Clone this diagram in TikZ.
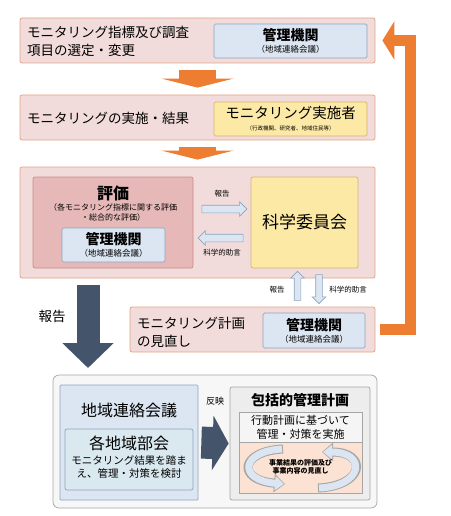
\documentclass[tikz,border=0pt]{standalone}
\usepackage{fontspec}
\setmainfont{Noto Sans CJK JP}
\usepackage{tikz}
\usetikzlibrary{arrows.meta, positioning, shapes.arrows}

\definecolor{pinkfill}{HTML}{F2DCDB}
\definecolor{pinkline}{HTML}{E3A484}
\definecolor{bluefill}{HTML}{DCE6F2}
\definecolor{blueline}{HTML}{8DA3BD}
\definecolor{yellowfill}{HTML}{FDE9A6}
\definecolor{yellowline}{HTML}{D5B26E}
\definecolor{evalfill}{HTML}{E6B9B8}
\definecolor{evalline}{HTML}{C98B88}
\definecolor{orangearr}{HTML}{ED7D31}
\definecolor{navyarr}{HTML}{44546A}
\definecolor{grayline}{HTML}{A6A6A6}
\definecolor{peachfill}{HTML}{FBE2D3}
\definecolor{tealfill}{HTML}{DAE9EF}

\begin{document}
\begin{tikzpicture}[x=1pt, y=-1pt,
  outerbox/.style={rectangle, draw=pinkline, fill=pinkfill, rounded corners=2pt, line width=0.8pt, inner sep=0pt},
  orgbox/.style={rectangle, draw=blueline, fill=bluefill, rounded corners=1.5pt, line width=0.7pt, inner sep=0pt, align=center},
  doerbox/.style={orgbox, draw=yellowline, fill=yellowfill},
  graybox/.style={rectangle, draw=grayline, rounded corners=2pt, line width=0.7pt, inner sep=0pt, align=center},
  txt/.style={inner sep=0pt, align=left, font=\fontsize{13.5}{18}\selectfont},
  small/.style={inner sep=0pt, align=center, font=\fontsize{7.5}{9}\selectfont},
  orangearrow/.style={draw=orangearr, line width=37pt, -{Triangle[width=72pt, length=9pt]}, shorten <=7pt, shorten >=7pt},
  navyarrow/.style={draw=navyarr, -{Triangle[width=50pt, length=25pt]}},
  palearrow/.style={single arrow, draw=blueline, fill=bluefill, line width=0.6pt, inner sep=0pt, minimum width=0pt, single arrow head extend=3.5pt, single arrow head indent=0pt},
  cycline/.style={draw=grayline, line width=9pt, -{Triangle[width=18pt, length=11pt]}},
  cycfill/.style={draw=bluefill, line width=7pt, -{Triangle[width=14pt, length=9pt]}}]

  \useasboundingbox (0,0) rectangle (450,516);

  % step 1: selection of indicators
  \node (sel) [outerbox, minimum width=355pt, minimum height=45pt] at (197.5,40.5) {};
  \node (seltxt) [txt, anchor=west] at (27,41) {モニタリング指標及び調査\\項目の選定・変更};
  \node (selorg) [orgbox, minimum width=153pt, minimum height=34pt] at (290.5,41)
    {{\fontsize{14}{15}\selectfont\bfseries 管理機関}\\{\fontsize{8.5}{10}\selectfont （地域連絡会議）}};

  % step 2: monitoring
  \node (impl) [outerbox, minimum width=355pt, minimum height=45pt] at (197.5,117.5) {};
  \node (impltxt) [txt, anchor=west] at (27,118) {モニタリングの実施・結果};
  \node (implorg) [doerbox, minimum width=153pt, minimum height=34pt] at (290.5,119)
    {{\fontsize{14.5}{15}\selectfont モニタリング実施者}\\{\fontsize{5.5}{6.5}\selectfont （行政機関、研究者、地域住民等）}};

  % step 3: evaluation
  \node (eval) [outerbox, minimum width=355pt, minimum height=111pt] at (197.5,222.5) {};
  \node (evalbox) [rectangle, draw=evalline, fill=evalfill, rounded corners=2pt, line width=0.7pt, minimum width=160pt, minimum height=91pt] at (113,222.5) {};
  \node (evaltitle) [inner sep=0pt, font=\fontsize{16}{17}\selectfont\bfseries] at (113,193) {評価};
  \node (evalsub) [small, font=\fontsize{8}{10}\selectfont] at (113,212) {（各モニタリング指標に関する評価\\・総合的な評価）};
  \node (evalorg) [orgbox, minimum width=103pt, minimum height=34pt] at (113.5,245)
    {{\fontsize{14}{15}\selectfont\bfseries 管理機関}\\{\fontsize{8.5}{10}\selectfont （地域連絡会議）}};
  \node (sci) [rectangle, draw=yellowline, fill=yellowfill, rounded corners=2pt, line width=0.7pt, minimum width=107pt, minimum height=91pt, font=\fontsize{17}{18}\selectfont] at (304.5,222.5) {科学委員会};

  \node (rep1) [palearrow, minimum height=45pt] at (222.5,209) {\rule{0pt}{7pt}};
  \node (rep1lbl) [small] at (222,194) {報告};
  \node (adv1) [palearrow, rotate=180, minimum height=45pt] at (222.5,238) {\rule{0pt}{7pt}};
  \node (adv1lbl) [small] at (222,253) {科学的助言};

  % step 4: review
  \node (review) [outerbox, minimum width=245pt, minimum height=45pt] at (252.5,329.5) {};
  \node (revtxt) [txt, anchor=west] at (137,332) {モニタリング計画\\の見直し};
  \node (revorg) [orgbox, minimum width=102pt, minimum height=35pt] at (314,330.5)
    {{\fontsize{14}{15}\selectfont\bfseries 管理機関}\\{\fontsize{8.5}{10}\selectfont （地域連絡会議）}};

  \node (rep2) [palearrow, rotate=90, minimum height=29pt] at (297.5,287.5) {\rule{0pt}{6pt}};
  \node (rep2lbl) [small] at (277,290) {報告};
  \node (adv2) [palearrow, rotate=-90, minimum height=29pt] at (319,287.5) {\rule{0pt}{6pt}};
  \node (adv2lbl) [small] at (348,290) {科学的助言};

  % bottom: regional meetings and plan
  \node (base) [graybox, fill=white!97!black, rounded corners=6pt, minimum width=324pt, minimum height=133pt] at (215,441.5) {};
  \node (region) [graybox, draw=blueline, fill=bluefill, rounded corners=1pt, minimum width=138pt, minimum height=115pt] at (129,442.5) {};
  \node (regtitle) [inner sep=0pt, font=\fontsize{16}{17}\selectfont] at (129,410) {地域連絡会議};
  \node (subgrp) [graybox, draw=blueline, fill=tealfill, minimum width=128pt, minimum height=61pt] at (129,459.5) {};
  \node (subtitle) [inner sep=0pt, font=\fontsize{16}{17}\selectfont] at (129,443) {各地域部会};
  \node (subtxt) [inner sep=0pt, align=center, font=\fontsize{10.5}{13}\selectfont] at (129,467) {モニタリング結果を踏ま\\え、管理・対策を検討};

  \node (plan) [graybox, fill=black!7, rounded corners=2pt, minimum width=140pt, minimum height=113pt] at (300,443.5) {};
  \node (plantitle) [inner sep=0pt, font=\fontsize{14}{15}\selectfont\bfseries] at (300,400) {包括的管理計画};
  \node (action) [graybox, fill=black!4, rounded corners=0pt, minimum width=123pt, minimum height=30pt, font=\fontsize{11}{14}\selectfont] at (300.5,427) {行動計画に基づいて\\管理・対策を実施};
  \node (cycle) [graybox, fill=peachfill, rounded corners=0pt, minimum width=123pt, minimum height=51pt] at (300.5,467.5) {};

  \draw [cycline] (283,449) .. controls (240,451) and (236,480) .. (285,484);
  \draw [cycfill] (282,449) .. controls (241,451) and (237,480) .. (284,484);
  \draw [cycline] (318,488) .. controls (365,486) and (368,452) .. (322,452);
  \draw [cycfill] (319,488) .. controls (364,486) and (367,452) .. (323,452);
  \node (cyctxt) [inner sep=0pt, align=center, font=\fontsize{7}{8.5}\selectfont\bfseries] at (300.5,467) {事業結果の評価及び\\事業内容の見直し};

  % connectors
  \draw [orangearrow] (sel) -- (impl);
  \draw [orangearrow] (impl) -- (eval);
  \draw [draw=orangearr, line width=11pt, -{Triangle[width=38pt, length=12pt]}, shorten <=5pt, shorten >=7pt] (review.east) -- ++(35,0) |- (sel.east);

  \coordinate (rptA) at (88,279);
  \coordinate (rptB) at (88,375);
  \draw [navyarrow, line width=23pt, shorten <=6pt, shorten >=7pt] (rptA) -- (rptB);
  \node (rptlbl) [inner sep=0pt, font=\fontsize{13.5}{15}\selectfont] at (52,316) {報告};

  \draw [draw=navyarr, line width=32pt, -{Triangle[width=54pt, length=16pt]}, shorten <=3pt, shorten >=1pt] (region.east) -- (plan.west);
  \node (refllbl) [inner sep=0pt, font=\fontsize{9}{10}\selectfont] at (215,401) {反映};
\end{tikzpicture}
\end{document}
